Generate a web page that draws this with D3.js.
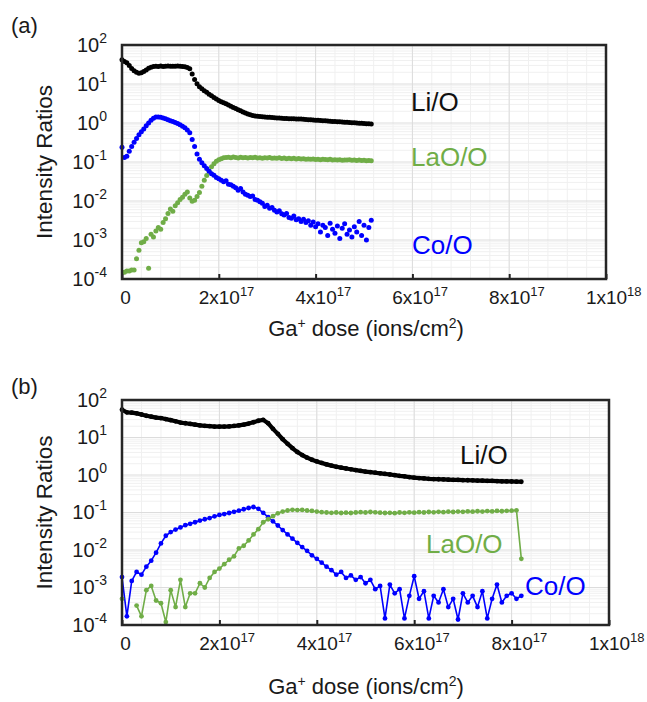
<!DOCTYPE html>
<html>
<head>
<meta charset="utf-8">
<script src="https://cdn.jsdelivr.net/npm/d3@7"></script>
<style>
  body { margin: 0; background: #fff; }
  svg text { font-family: "Liberation Sans", Arial, sans-serif; }
</style>
</head>
<body>
<svg id="chart" width="647" height="702"></svg>
<script>
// ---- Data -------------------------------------------------------------
// Ga+ dose, in units of 1e16 ions/cm2

// Panel (a)
const doseA = [
  0,0.5,1,1.5,2,2.5,3,3.5,4,4.5,
  5,5.5,6,6.5,7,7.5,8,8.5,9,9.5,
  10,10.5,11,11.5,12,12.5,13,13.5,14,14.5,
  15,15.5,16,16.5,17,17.5,18,18.5,19,19.5,
  20,20.5,21,21.5,22,22.5,23,23.5,24,24.5,
  25,25.5,26,26.5,27,27.5,28,28.5,29,29.5,
  30,30.5,31,31.5,32,32.5,33,33.5,34,34.5,
  35,35.5,36,36.5,37,37.5,38,38.5,39,39.5,
  40,40.5,41,41.5,42,42.5,43,43.5,44,44.5,
  45,45.5,46,46.5,47,47.5,48,48.5,49,49.5,
  50,50.5,51,51.5
];
const liA = [
  42,38,35,30,25,22,20,19,19.5,21,
  23,25.5,27,28,28.5,28,28.8,28.3,28.6,28.9,
  28.4,28.7,28.5,28.9,28.6,28.2,27.5,26.5,24.5,18,
  13,10.2,8.5,7.6,6.7,6.1,5.5,5.0,4.5,4.1,
  3.8,3.5,3.3,3.1,2.9,2.7,2.5,2.35,2.2,2.05,
  1.92,1.8,1.7,1.62,1.56,1.52,1.49,1.46,1.45,1.43,
  1.41,1.40,1.38,1.37,1.35,1.34,1.32,1.31,1.30,1.29,
  1.29,1.28,1.27,1.26,1.26,1.25,1.23,1.22,1.21,1.20,
  1.18,1.17,1.16,1.15,1.14,1.13,1.11,1.10,1.09,1.08,
  1.07,1.06,1.05,1.04,1.03,1.02,1.01,1.00,0.99,0.98,
  0.97,0.96,0.95,0.94
];
const laA = [
  null,0.00015,0.00016,0.00016,0.00017,0.00017,0.00033,0.00055,0.00085,0.0009,
  0.0011,0.00019,0.0014,0.0012,0.0017,0.0021,0.0019,0.0028,0.0035,0.0048,
  0.0062,0.0055,0.0075,0.009,0.011,0.0125,0.015,0.017,0.012,0.0098,
  0.0105,0.013,0.0165,0.024,0.034,0.045,0.058,0.075,0.09,0.105,
  0.115,0.122,0.128,0.130,0.132,0.128,0.134,0.130,0.127,0.133,
  0.129,0.131,0.126,0.130,0.128,0.132,0.127,0.129,0.125,0.128,
  0.126,0.130,0.124,0.127,0.125,0.128,0.123,0.126,0.122,0.125,
  0.121,0.124,0.120,0.123,0.119,0.121,0.118,0.120,0.117,0.119,
  0.116,0.118,0.115,0.117,0.116,0.114,0.117,0.113,0.115,0.112,
  0.114,0.111,0.113,0.112,0.114,0.111,0.113,0.110,0.112,0.109,
  0.111,0.108,0.110,0.107
];
const coA = [
  0.24,0.13,0.14,0.19,0.25,0.32,0.40,0.50,0.60,0.70,
  0.85,1.0,1.18,1.32,1.42,1.43,1.40,1.35,1.28,1.22,
  1.15,1.09,1.03,0.97,0.90,0.82,0.75,0.66,0.56,0.38,
  0.25,0.16,0.117,0.095,0.080,0.068,0.058,0.050,0.046,0.040,
  0.037,0.034,0.031,0.033,0.027,0.026,0.024,0.022,0.019,0.021,
  0.017,0.015,0.014,0.013,0.0135,0.011,0.0105,0.0095,0.0088,0.0072,
  0.0078,0.0065,0.0068,0.0058,0.0052,0.0056,0.0047,0.0044,0.0048,0.0038,
  0.0036,0.0041,0.0033,0.0035,0.0030,0.0034,0.0028,0.0031,0.0024,0.0029,
  0.0022,0.0026,0.0016,0.0024,0.0021,0.0013,0.0027,0.0019,0.0015,0.0023,
  0.0011,0.0020,0.0026,0.0014,0.0018,0.0012,0.0022,0.0016,0.0030,0.0013,
  0.0024,0.0010,0.0021,0.0032
];

// Panel (b)
const doseB = [
  0,1,2,3,4,5,6,7,8,9,
  10,11,12,13,14,15,16,17,18,19,
  20,21,22,23,24,25,26,27,28,29,
  30,31,32,33,34,35,36,37,38,39,
  40,41,42,43,44,45,46,47,48,49,
  50,51,52,53,54,55,56,57,58,59,
  60,61,62,63,64,65,66,67,68,69,
  70,71,72,73,74,75,76,77,78,79,
  80,81,82
];
const liB = [
  55,47,46,44,41,38,36,34,33,31,
  29,27,25,24,23,22,21,20.5,20,19.6,
  19.5,19.6,19.8,20.3,21,22,23.5,25.5,28,29.5,
  24,17,12.5,9.0,6.8,5.2,4.1,3.4,2.9,2.55,
  2.3,2.1,1.92,1.78,1.66,1.57,1.49,1.42,1.35,1.29,
  1.23,1.19,1.15,1.11,1.07,1.03,0.99,0.95,0.92,0.88,
  0.85,0.83,0.81,0.79,0.78,0.77,0.76,0.75,0.745,0.74,
  0.73,0.725,0.72,0.71,0.705,0.70,0.695,0.69,0.68,0.675,
  0.67,0.665,0.66
];
const laB = [
  0.0005,null,null,0.00033,0.00017,0.00085,0.0011,0.00045,0.00038,0.00012,
  0.00085,0.0003,0.0016,0.0003,0.0007,0.0007,0.0013,0.0010,0.0018,0.0026,
  0.0032,0.0042,0.0055,0.0068,0.011,0.013,0.018,0.026,0.036,0.055,
  0.066,0.080,0.095,0.106,0.113,0.118,0.116,0.117,0.113,0.110,
  0.106,0.102,0.100,0.098,0.100,0.097,0.099,0.097,0.100,0.102,
  0.100,0.103,0.101,0.099,0.097,0.098,0.096,0.100,0.098,0.101,
  0.099,0.102,0.100,0.103,0.101,0.104,0.102,0.105,0.103,0.106,
  0.104,0.107,0.105,0.108,0.106,0.109,0.107,0.110,0.108,0.111,
  0.112,0.114,0.0058
];
const coB = [
  0.0019,0.00017,0.0015,0.0026,0.0022,0.0036,0.0052,0.0085,0.015,0.024,
  0.030,0.035,0.040,0.046,0.050,0.055,0.061,0.066,0.071,0.079,
  0.086,0.091,0.097,0.104,0.112,0.122,0.132,0.140,0.125,0.098,
  0.075,0.058,0.045,0.034,0.026,0.020,0.0155,0.012,0.0095,0.0072,
  0.0058,0.0046,0.0036,0.0029,0.0022,0.0026,0.0018,0.0021,0.0016,0.0019,
  0.0013,0.0016,0.0009,0.0011,0.00015,0.0012,0.0007,0.0009,0.00015,0.0006,
  0.0020,0.0005,0.0008,0.00015,0.0006,0.0004,0.0009,0.0003,0.0005,0.00014,
  0.0007,0.0004,0.0006,0.0003,0.0008,0.00015,0.0005,0.0012,0.0004,0.0006,
  0.0007,0.0005,0.0006
];

// Axis ticks
const xTickValues   = [0, 2e17, 4e17, 6e17, 8e17, 1e18];
const xTickMantissa = ["0", "2x10", "4x10", "6x10", "8x10", "1x10"];
const xTickExponent = ["", "17", "17", "17", "17", "18"];
const yTickValues   = [1e-4, 1e-3, 1e-2, 1e-1, 1e0, 1e1, 1e2];
const yTickExponent = ["-4", "-3", "-2", "-1", "0", "1", "2"];

const seriesNames = ["Li/O", "LaO/O", "Co/O"];

// ---- Drawing ----------------------------------------------------------
const COLORS = { li: "#000000", la: "#70ad47", co: "#0000ff" };
const svg = d3.select("#chart");

const panels = [
  { tag: "(a)", tagY: 33, dose: doseA, li: liA, la: laA, co: coA,
    box: { l: 122, t: 45, r: 606, b: 279 }, joined: false,
    xTitleY: 336,
    labels: [ { x: 411, y: 111 }, { x: 411, y: 166 }, { x: 412, y: 254 } ] },
  { tag: "(b)", tagY: 394, dose: doseB, li: liB, la: laB, co: coB,
    box: { l: 122, t: 400, r: 609, b: 625 }, joined: true,
    xTitleY: 694,
    labels: [ { x: 460, y: 464 }, { x: 426, y: 553 }, { x: 525, y: 595 } ] }
];

panels.forEach((p, pi) => {
  const { l, t, r, b } = p.box;
  const x = d3.scaleLinear().domain([0, 1e18]).range([l, r]);
  const y = d3.scaleLog().domain([1e-4, 1e2]).range([b, t]);
  const g = svg.append("g");

  // grid: minor then major
  const minorX = d3.range(0, 1e18 + 1, 4e16);
  const minorY = [];
  for (let k = -4; k < 2; k++) for (let m = 2; m <= 9; m++) minorY.push(m * Math.pow(10, k));
  g.append("g").selectAll("line").data(minorX).join("line")
    .attr("x1", d => x(d)).attr("x2", d => x(d)).attr("y1", t).attr("y2", b)
    .attr("stroke", "#f0f0f0").attr("stroke-width", 1);
  g.append("g").selectAll("line").data(minorY).join("line")
    .attr("x1", l).attr("x2", r).attr("y1", d => y(d)).attr("y2", d => y(d))
    .attr("stroke", "#f0f0f0").attr("stroke-width", 1);
  g.append("g").selectAll("line").data(xTickValues).join("line")
    .attr("x1", d => x(d)).attr("x2", d => x(d)).attr("y1", t).attr("y2", b)
    .attr("stroke", "#dcdcdc").attr("stroke-width", 1);
  g.append("g").selectAll("line").data(yTickValues).join("line")
    .attr("x1", l).attr("x2", r).attr("y1", d => y(d)).attr("y2", d => y(d))
    .attr("stroke", "#dcdcdc").attr("stroke-width", 1);

  // series
  const clipId = "clip" + pi;
  svg.append("clipPath").attr("id", clipId).append("rect")
    .attr("x", l - 4).attr("y", t - 4).attr("width", r - l + 8).attr("height", b - t + 8);
  const plot = g.append("g").attr("clip-path", `url(#${clipId})`);

  const order = p.joined ? ["li", "co", "la"] : ["li", "la", "co"];
  order.forEach(key => {
    const rows = p.dose.map((d, i) => ({ d: d * 1e16, v: p[key][i] }));
    const color = COLORS[key];
    if (p.joined) {
      plot.append("path").datum(rows)
        .attr("d", d3.line().defined(q => q.v != null).x(q => x(q.d)).y(q => y(q.v)))
        .attr("fill", "none").attr("stroke", color)
        .attr("stroke-width", key === "li" ? 4.2 : 1.6)
        .attr("stroke-linejoin", "round");
    }
    plot.append("g").selectAll("circle").data(rows.filter(q => q.v != null)).join("circle")
      .attr("cx", q => x(q.d)).attr("cy", q => y(q.v))
      .attr("r", p.joined ? 2.4 : 2.5)
      .attr("fill", color);
  });

  // x axis (inward ticks)
  const xAxis = d3.axisBottom(x).tickValues(xTickValues)
    .tickSizeInner(-5).tickSizeOuter(0).tickPadding(12).tickFormat(() => "");
  const xg = g.append("g").attr("transform", `translate(0,${b})`).call(xAxis);
  xg.select(".domain").remove();
  xg.selectAll(".tick line").attr("stroke", "#222").attr("stroke-width", 2);
  xg.selectAll(".tick text").each(function (d, i) {
    const txt = d3.select(this).text(null)
      .attr("fill", "#1a1a1a").attr("font-size", 19).attr("text-anchor", "start");
    const main = txt.append("tspan").text(xTickMantissa[i]);
    if (xTickExponent[i]) {
      txt.append("tspan").attr("dy", -8).attr("font-size", 13).text(xTickExponent[i]);
    }
    const w = main.node().getComputedTextLength();
    txt.attr("x", -w / 2 + (i === 0 ? 3 : 0));
  });

  // y axis
  const yAxis = d3.axisLeft(y).tickValues(yTickValues).tickSize(0).tickPadding(15).tickFormat(() => "");
  const yg = g.append("g").attr("transform", `translate(${l},0)`).call(yAxis);
  yg.select(".domain").remove();
  yg.selectAll(".tick text").each(function (d, i) {
    const txt = d3.select(this).text(null).attr("fill", "#1a1a1a").attr("font-size", 20);
    txt.append("tspan").text("10");
    txt.append("tspan").attr("dy", -9).attr("font-size", 14).text(yTickExponent[i]);
  });

  // frame
  g.append("rect").attr("x", l).attr("y", t).attr("width", r - l).attr("height", b - t)
    .attr("fill", "none").attr("stroke", "#262626").attr("stroke-width", 2.5);

  // series labels
  ["li", "la", "co"].forEach((key, k) => {
    g.append("text").attr("x", p.labels[k].x).attr("y", p.labels[k].y)
      .attr("font-size", 26).attr("fill", COLORS[key] === "#000000" ? "#111" : COLORS[key])
      .text(seriesNames[k]);
  });

  // axis titles
  g.append("text")
    .attr("transform", `translate(52,${(t + b) / 2}) rotate(-90)`)
    .attr("text-anchor", "middle").attr("font-size", 22.5).attr("fill", "#1a1a1a")
    .text("Intensity Ratios");

  const xt = g.append("text").attr("x", 366).attr("y", p.xTitleY)
    .attr("text-anchor", "middle").attr("font-size", 22).attr("fill", "#1a1a1a");
  xt.append("tspan").text("Ga");
  xt.append("tspan").attr("dy", -8).attr("font-size", 14).text("+");
  xt.append("tspan").attr("dy", 8).text(" dose (ions/cm");
  xt.append("tspan").attr("dy", -8).attr("font-size", 14).text("2");
  xt.append("tspan").attr("dy", 8).text(")");

  // panel tag
  g.append("text").attr("x", 11).attr("y", p.tagY)
    .attr("font-size", 22).attr("fill", "#1a1a1a").text(p.tag);
});
</script>
</body>
</html>
